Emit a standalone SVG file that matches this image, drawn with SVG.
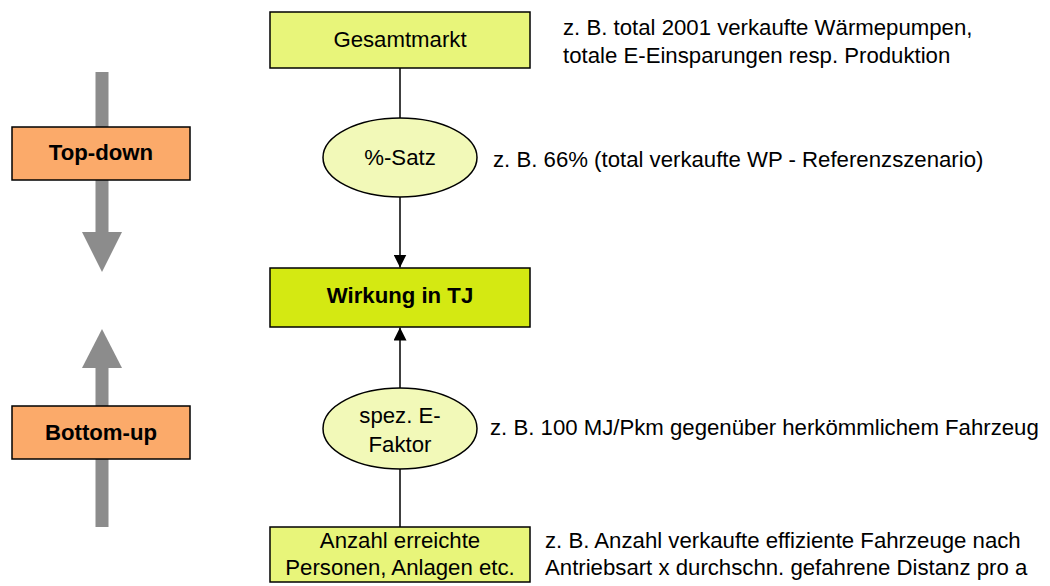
<svg xmlns="http://www.w3.org/2000/svg" width="1050" height="586" viewBox="0 0 1050 586">
<defs>
<style>
text{font-family:"Liberation Sans",Arial,sans-serif;font-size:22.2px;fill:#000}
.c{text-anchor:middle}
.b{font-weight:bold}
.box{stroke:#000;stroke-width:1.5}
.lb{fill:#E8F57A}
.el{fill:#F2F9B8}
.main{fill:#D4E912}
.or{fill:#FBAA6A}
.edge{stroke:#000;stroke-width:1.5;fill:none}
.gray{fill:#8C8C8C}
</style>
<marker id="ah" markerWidth="13" markerHeight="13" refX="13" refY="6.5" orient="auto" markerUnits="userSpaceOnUse" viewBox="0 0 13 13">
<path d="M0,0 L13,6.5 L0,13 z" fill="#000"/>
</marker>
</defs>
<rect width="1050" height="586" fill="#fff"/>
<g id="left-arrows">
<rect class="gray" x="95.5" y="72" width="13" height="162"/>
<polygon class="gray" points="82,232 122,232 102,272"/>
<rect class="gray" x="95.5" y="366" width="13" height="161"/>
<polygon class="gray" points="82,368 122,368 102,329"/>
</g>
<g id="topdown">
<rect class="box or" x="12" y="127" width="178" height="53"/>
<text class="c b" x="101" y="160">Top-down</text>
</g>
<g id="bottomup">
<rect class="box or" x="12" y="406" width="178" height="53"/>
<text class="c b" x="101" y="440">Bottom-up</text>
</g>
<g id="connectors">
<line class="edge" x1="400" y1="68" x2="400" y2="118"/>
<line class="edge" x1="400" y1="197" x2="400" y2="267.5" marker-end="url(#ah)"/>
<line class="edge" x1="400" y1="388" x2="400" y2="327.5" marker-end="url(#ah)"/>
<line class="edge" x1="400" y1="469" x2="400" y2="527"/>
</g>
<g id="gesamtmarkt">
<rect class="box lb" x="270" y="12" width="260" height="56"/>
<text class="c" x="400" y="47">Gesamtmarkt</text>
</g>
<g id="satz">
<ellipse class="box el" cx="400" cy="157.5" rx="77" ry="39.5"/>
<text class="c" x="400" y="165">%-Satz</text>
</g>
<g id="wirkung">
<rect class="box main" x="270" y="268" width="260" height="59"/>
<text class="c b" x="400" y="303">Wirkung in TJ</text>
</g>
<g id="faktor">
<ellipse class="box el" cx="400" cy="428.5" rx="77" ry="40.5"/>
<text class="c" x="400" y="423">spez. E-</text>
<text class="c" x="400" y="452">Faktor</text>
</g>
<g id="anzahl">
<rect class="box lb" x="270" y="527" width="260" height="55"/>
<text class="c" x="400" y="548">Anzahl erreichte</text>
<text class="c" x="400" y="575">Personen, Anlagen etc.</text>
</g>
<g id="annotations">
<text x="563" y="35">z. B. total 2001 verkaufte Wärmepumpen,</text>
<text x="563" y="63">totale E-Einsparungen resp. Produktion</text>
<text x="493" y="167">z. B. 66% (total verkaufte WP - Referenzszenario)</text>
<text x="490" y="435">z. B. 100 MJ/Pkm gegenüber herkömmlichem Fahrzeug</text>
<text x="545" y="548">z. B. Anzahl verkaufte effiziente Fahrzeuge nach</text>
<text x="545" y="575">Antriebsart x durchschn. gefahrene Distanz pro a</text>
</g>
</svg>
